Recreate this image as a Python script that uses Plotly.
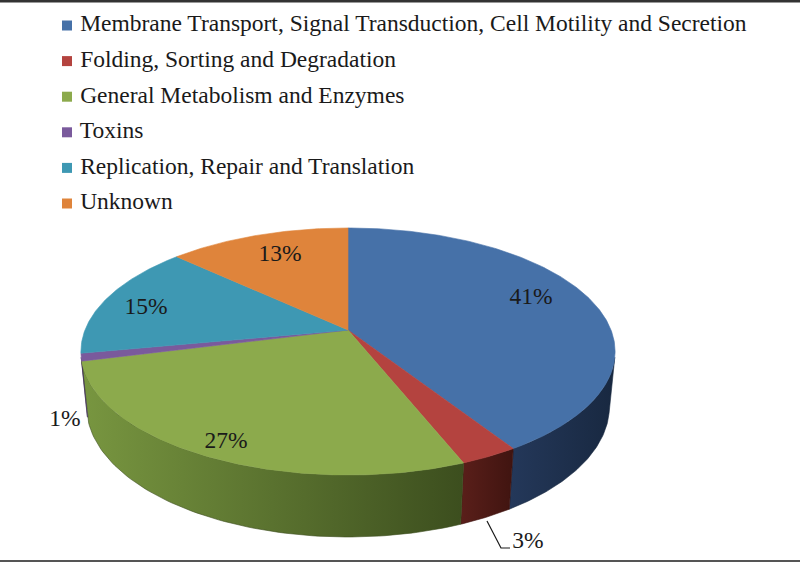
import numpy as np
import plotly.graph_objects as go

# ---------------- data ----------------
CATEGORIES = [
    "Membrane Transport, Signal Transduction, Cell Motility and Secretion",
    "Folding, Sorting and Degradation",
    "General Metabolism and Enzymes",
    "Toxins",
    "Replication, Repair and Translation",
    "Unknown",
]
PERCENT = [41, 3, 27, 1, 15, 13]

# ---------------- style ----------------
TOP_COLORS = ["#4671A8", "#B4433F", "#8CAA4C", "#7A5A9C", "#3E98B3", "#DF843B"]
WALL_LIGHT = ["#24385A", "#5A1F1A", "#789640", "#5A4278", "#2C6E82", "#A8602A"]
WALL_DARK = ["#182840", "#401410", "#3C4E1E", "#3E2C56", "#1E4E5E", "#7A451E"]
LABEL_XY = [(531, 298), (528, 542), (226, 442), (65, 420), (146, 308), (280, 255)]
FONT = "Liberation Serif"

# 3D projection parameters (pixel space)
CX, CY = 348.0, 330.0
F = 1344.0
DIST = 5.11
TILT = np.radians(27.1)
THICK = 0.237
S, C = np.sin(TILT), np.cos(TILT)


def proj(theta_deg, r, z):
    th = np.radians(theta_deg)
    X = r * np.sin(th)
    Y = r * np.cos(th)
    depth = DIST + Y * C - z * S
    up = Y * S + z * C
    return CX + F * X / depth, CY - F * up / depth


total = sum(PERCENT)
bounds = np.concatenate([[0], np.cumsum(PERCENT)]) / total * 360.0
# front-facing wall range (outward normal facing the camera)
lim = np.degrees(np.arccos(-1.0 / (DIST * C)))
front_lo, front_hi = lim, 360 - lim

fig = go.Figure()

# walls (front-facing part only)
for i in range(len(PERCENT)):
    a0, a1 = max(bounds[i], front_lo), min(bounds[i + 1], front_hi)
    if a1 <= a0:
        continue
    th = np.linspace(a0, a1, 80)
    xt, yt = proj(th, 1.0, 0.0)
    xb, yb = proj(th[::-1], 1.0, -THICK)
    xs = np.concatenate([xt, xb, xt[:1]])
    ys = np.concatenate([yt, yb, yt[:1]])
    fig.add_trace(go.Scatter(
        x=xs, y=ys, mode="lines", fill="toself",
        line=dict(color=WALL_DARK[i], width=0.6),
        fillgradient=dict(type="horizontal",
                          colorscale=[[0, WALL_LIGHT[i]], [1, WALL_DARK[i]]]),
        hoverinfo="skip", showlegend=False))

# top faces
for i in range(len(PERCENT)):
    th = np.linspace(bounds[i], bounds[i + 1], max(int(PERCENT[i] * 6), 8))
    xa, ya = proj(th, 1.0, 0.0)
    xs = np.concatenate([[CX], xa, [CX]])
    ys = np.concatenate([[CY], ya, [CY]])
    fig.add_trace(go.Scatter(
        x=xs, y=ys, mode="lines", fill="toself",
        fillcolor=TOP_COLORS[i], line=dict(color=TOP_COLORS[i], width=0.6),
        name=CATEGORIES[i], hoverinfo="name", showlegend=False))

# data labels
fig.add_trace(go.Scatter(
    x=[p[0] for p in LABEL_XY], y=[p[1] for p in LABEL_XY],
    mode="text", text=[f"{v}%" for v in PERCENT],
    textfont=dict(family=FONT, size=23.5, color="#1a1a1a"),
    hoverinfo="skip", showlegend=False))

# leader line for the small 3% slice
fig.add_shape(type="path", path="M 487 521 L 501 548 L 510 548",
              line=dict(color="#1a1a1a", width=1.2), xref="x", yref="y")

# legend (manual, to match spacing)
leg_y = [25.5 + 35.6 * k for k in range(len(CATEGORIES))]
fig.add_trace(go.Scatter(
    x=[67] * len(CATEGORIES), y=leg_y, mode="markers+text",
    marker=dict(symbol="square", size=10, color=TOP_COLORS, line=dict(width=0)),
    text=[" " + c for c in CATEGORIES], textposition="middle right",
    textfont=dict(family=FONT, size=23.5, color="#1a1a1a"),
    hoverinfo="skip", showlegend=False, cliponaxis=False))

# frame lines
fig.add_shape(type="line", x0=0, x1=800, y0=1, y1=1, xref="x", yref="y",
              line=dict(color="#333333", width=3))
fig.add_shape(type="line", x0=0, x1=800, y0=561, y1=561, xref="x", yref="y",
              line=dict(color="#555555", width=2))

fig.update_layout(
    width=800, height=563,
    margin=dict(l=0, r=0, t=0, b=0),
    paper_bgcolor="white", plot_bgcolor="white",
    xaxis=dict(range=[0, 800], visible=False, fixedrange=True),
    yaxis=dict(range=[563, 0], visible=False, fixedrange=True),
    showlegend=False,
)

fig.write_html("out.html", config={"displayModeBar": False},
               post_script="document.body.style.margin='0';document.body.style.overflow='hidden';")
